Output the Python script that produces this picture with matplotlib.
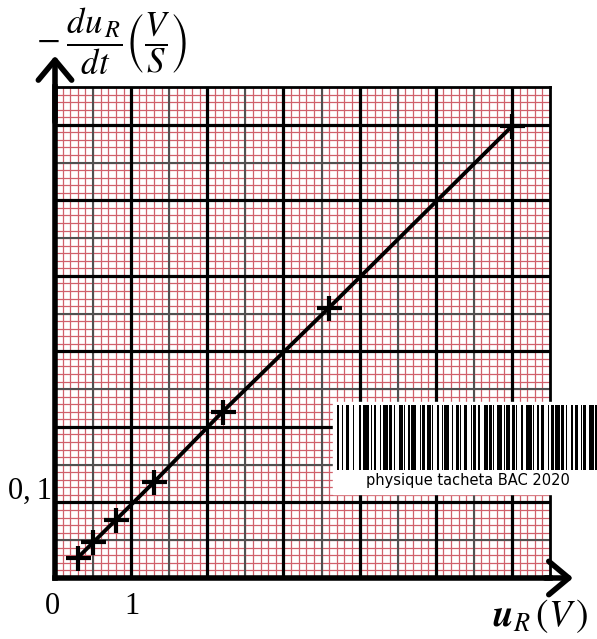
import matplotlib
matplotlib.use("Agg")
import matplotlib.pyplot as plt
import numpy as np
from matplotlib.patches import Rectangle

plt.rcParams['mathtext.fontset'] = 'stix'

# mesures
u_R = [0.3, 0.5, 0.8, 1.3, 2.2, 3.6, 6.0]
du_dt = [0.027, 0.047, 0.077, 0.127, 0.220, 0.358, 0.598]

# motif du code-barres (largeurs relatives, barre / espace alternes)
barcode = [2, 2, 1, 2, 3, 3, 1, 4, 2, 1, 5, 2, 1, 1, 2, 3, 1, 2, 4, 1, 2, 2, 1, 3,
           3, 1, 1, 2, 2, 1, 4, 3, 1, 1, 2, 2, 3, 1, 1, 3, 2, 2, 1, 1, 4, 2, 1, 3,
           2, 1, 1, 2, 3, 3, 1, 1, 2, 2, 1, 4, 3, 1, 2, 1, 1, 2, 4, 2, 1, 1, 3, 2,
           2, 1, 1, 3, 2, 2, 5, 1, 1, 2, 2, 1, 3, 3, 1, 2, 2, 1, 4, 1, 2, 2, 1, 3,
           2, 1, 3, 2, 1, 1, 2, 3, 4, 1, 1, 2]

fig = plt.figure(figsize=(5.97, 6.39), dpi=100)
ax = fig.add_axes([55 / 597, 61 / 639, 495 / 597, 491 / 639])
ax.set_xlim(0, 6.5)
ax.set_ylim(0, 0.65)

red = '#d0606b'
for x in np.arange(0, 6.51, 0.1):
    ax.axvline(x, color=red, lw=0.9, zorder=1)
for y in np.arange(0, 0.651, 0.01):
    ax.axhline(y, color=red, lw=0.9, zorder=1)
for x in np.arange(0.5, 6.5, 1):
    ax.axvline(x, color='#505050', lw=1.5, zorder=2)
for y in np.arange(0.05, 0.65, 0.1):
    ax.axhline(y, color='#505050', lw=1.5, zorder=2)
for x in np.arange(1, 6.5, 1):
    ax.axvline(x, color='black', lw=2.3, zorder=3)
for y in np.arange(0.1, 0.65, 0.1):
    ax.axhline(y, color='black', lw=2.3, zorder=3)

for s in ax.spines.values():
    s.set_color('black')
    s.set_linewidth(2)
ax.spines['left'].set_linewidth(4)
ax.spines['bottom'].set_linewidth(4)
ax.set_xticks([])
ax.set_yticks([])

ax.plot(u_R, du_dt, color='black', lw=2.8, zorder=5)
ax.plot(u_R, du_dt, ls='none', marker='+', ms=18, mew=3, color='black', zorder=6)

# fleches des axes
astyle = '->,head_length=0.6,head_width=0.5'
ax.annotate('', xy=(0, 0.695), xytext=(0, 0.6), xycoords='data',
            arrowprops=dict(arrowstyle=astyle, lw=4, color='black', mutation_scale=24),
            annotation_clip=False)
ax.annotate('', xy=(6.84, 0), xytext=(6.4, 0), xycoords='data',
            arrowprops=dict(arrowstyle=astyle, lw=4, color='black', mutation_scale=24),
            annotation_clip=False)

# graduations
fig.text(30 / 597, 1 - 491 / 639, '0,\u20091', fontsize=22, family='Liberation Serif',
         ha='center', va='center')
fig.text(52 / 597, 1 - 607 / 639, '0', fontsize=22, family='Liberation Serif',
         ha='center', va='center')
fig.text(132 / 597, 1 - 607 / 639, '1', fontsize=22, family='Liberation Serif',
         ha='center', va='center')

# titres des axes
fig.text(112 / 597, 1 - 41 / 639,
         r'$-\;\dfrac{du_{\,R}}{dt}\left(\dfrac{V}{S}\right)$',
         fontsize=25, ha='center', va='center')
fig.text(540 / 597, 1 - 616 / 639, r'$\boldsymbol{u}_R\,\left(V\,\right)$',
         fontsize=27, ha='center', va='center')

# code-barres
fig.patches.append(Rectangle((333 / 597, 1 - 494 / 639), 264 / 597, 92 / 639,
                             transform=fig.transFigure, color='white', zorder=10))
k = 262 / sum(barcode)
x0 = 337
bar = True
for w in barcode:
    if bar:
        fig.patches.append(Rectangle((x0 / 597, 1 - 470 / 639), w * k / 597, 65 / 639,
                                     transform=fig.transFigure, color='black',
                                     zorder=11, lw=0))
    x0 += w * k
    bar = not bar
fig.text(468 / 597, 1 - 480 / 639, 'physique tacheta BAC 2020', fontsize=10.5,
         family='DejaVu Sans', ha='center', va='center', zorder=12)

fig.savefig('out.png', dpi=100)
